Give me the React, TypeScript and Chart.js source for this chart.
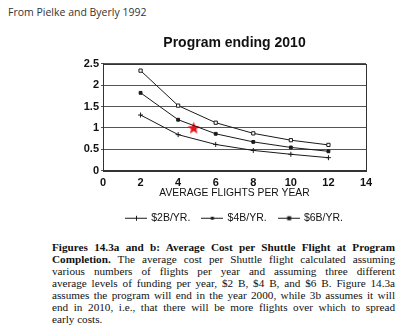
import React, { useEffect, useRef } from "react";
import { Chart, registerables } from "chart.js";
Chart.register(...registerables);

const flights = [2, 4, 6, 8, 10, 12];
const cost2B = [1.3, 0.84, 0.61, 0.47, 0.38, 0.3];
const cost4B = [1.82, 1.19, 0.86, 0.67, 0.54, 0.45];
const cost6B = [2.34, 1.52, 1.12, 0.87, 0.71, 0.6];
const seriesLabels = ["$2B/YR.", "$4B/YR.", "$6B/YR."];
const starX = [4.83];
const starY = [1.0];
const chartTitle = "Program ending 2010";
const xAxisTitle = "AVERAGE FLIGHTS PER YEAR";
const sourceNote = "From Pielke and Byerly 1992";

const captionLines: { bold?: string; text?: string }[] = [
  { bold: "Figures 14.3a and b: Average Cost per Shuttle Flight at Program" },
  { bold: "Completion.", text: " The average cost per Shuttle flight calculated assuming" },
  { text: "various numbers of flights per year and assuming three different" },
  { text: "average levels of funding per year, $2 B, $4 B, and $6 B. Figure 14.3a" },
  { text: "assumes the program will end in the year 2000, while 3b assumes it will" },
  { text: "end in 2010, i.e., that there will be more flights over which to spread" },
  { text: "early costs." },
];

const INK = "#1a1a1a";

function legendImage(kind: "plus" | "dot" | "square") {
  const c = document.createElement("canvas");
  c.width = 22;
  c.height = 8;
  const ctx = c.getContext("2d")!;
  ctx.strokeStyle = INK;
  ctx.fillStyle = INK;
  ctx.lineWidth = 1;
  ctx.beginPath();
  ctx.moveTo(0, 4.5);
  ctx.lineTo(22, 4.5);
  ctx.stroke();
  if (kind === "plus") {
    ctx.beginPath();
    ctx.moveTo(11.5, 2);
    ctx.lineTo(11.5, 7);
    ctx.stroke();
  } else if (kind === "dot") {
    ctx.fillRect(9.5, 3, 3, 3);
  } else {
    ctx.fillRect(9.5, 2.5, 4, 4);
  }
  return c;
}

function starImage() {
  const c = document.createElement("canvas");
  c.width = 13;
  c.height = 13;
  const ctx = c.getContext("2d")!;
  ctx.fillStyle = "#e8141c";
  ctx.beginPath();
  const cx = 6.5, cy = 7, R = 6.5, r = 2.7;
  for (let i = 0; i < 10; i++) {
    const a = -Math.PI / 2 + (i * Math.PI) / 5;
    const rad = i % 2 === 0 ? R : r;
    const px = cx + rad * Math.cos(a);
    const py = cy + rad * Math.sin(a);
    if (i === 0) ctx.moveTo(px, py);
    else ctx.lineTo(px, py);
  }
  ctx.closePath();
  ctx.fill();
  return c;
}

export default function App() {
  const ref = useRef<HTMLCanvasElement>(null);

  useEffect(() => {
    if (!ref.current) return;
    const legendImgs = [legendImage("plus"), legendImage("dot"), legendImage("square")];
    const star = starImage();
    const toPts = (ys: number[]) => flights.map((x, i) => ({ x, y: ys[i] }));

    const frame = {
      id: "frame",
      beforeDatasetsDraw(chart: any) {
        const { ctx, chartArea } = chart;
        ctx.save();
        ctx.strokeStyle = "#333";
        ctx.lineWidth = 1;
        ctx.strokeRect(
          Math.round(chartArea.left) + 0.5,
          Math.round(chartArea.top) + 0.5,
          Math.round(chartArea.right - chartArea.left),
          Math.round(chartArea.bottom - chartArea.top)
        );
        ctx.restore();
      },
    };

    const chart = new Chart(ref.current, {
      type: "line",
      data: {
        datasets: [
          {
            label: seriesLabels[0],
            data: toPts(cost2B),
            borderColor: INK,
            backgroundColor: INK,
            borderWidth: 1,
            pointStyle: "cross",
            pointRadius: 2.5,
            pointBorderWidth: 1,
            tension: 0,
          },
          {
            label: seriesLabels[1],
            data: toPts(cost4B),
            borderColor: INK,
            backgroundColor: INK,
            borderWidth: 1,
            pointStyle: "rect",
            pointRadius: 2,
            pointBorderWidth: 1,
            tension: 0,
          },
          {
            label: seriesLabels[2],
            data: toPts(cost6B),
            borderColor: INK,
            backgroundColor: "#fff",
            borderWidth: 1,
            pointStyle: "rect",
            pointRadius: 2.3,
            pointBorderWidth: 1,
            tension: 0,
          },
          {
            label: "star",
            data: starX.map((x, i) => ({ x, y: starY[i] })),
            showLine: false,
            pointStyle: star as any,
            pointRadius: 6,
          },
        ],
      },
      options: {
        animation: false,
        responsive: false,
        maintainAspectRatio: false,
        layout: { padding: { left: 0, right: 34, top: 35, bottom: 0 } },
        plugins: {
          title: {
            display: true,
            fullSize: false,
            text: chartTitle,
            color: "#111",
            font: { family: "Liberation Sans", size: 14, weight: "bold" },
            padding: { top: 0, bottom: 12 },
          },
          legend: {
            position: "bottom",
            fullSize: false,
            labels: {
              usePointStyle: true,
              pointStyleWidth: 20,
              color: "#111",
              font: { family: "Liberation Sans", size: 10.5 },
              padding: 12,
              filter: (item: any) => item.datasetIndex < 3,
              generateLabels: (ch: any) => {
                const items = Chart.defaults.plugins.legend.labels.generateLabels(ch);
                return items.map((it: any) => ({
                  ...it,
                  pointStyle: it.datasetIndex < 3 ? legendImgs[it.datasetIndex] : it.pointStyle,
                }));
              },
            },
          },
          tooltip: { enabled: false },
        },
        scales: {
          x: {
            type: "linear",
            min: 0,
            max: 14,
            ticks: {
              stepSize: 2,
              color: "#111",
              font: { family: "Liberation Sans", size: 11, weight: "bold" },
              padding: 6,
            },
            grid: { display: false, drawTicks: false },
            border: { display: true, color: "#333" },
            title: {
              display: true,
              text: xAxisTitle,
              color: "#111",
              font: { family: "Liberation Sans", size: 10.3 },
              padding: { top: 0, bottom: 1 },
            },
            afterFit: (s: any) => {
              s.height = 30;
            },
          },
          y: {
            min: 0,
            max: 2.5,
            ticks: {
              stepSize: 0.5,
              color: "#111",
              font: { family: "Liberation Sans", size: 11, weight: "bold" },
              padding: 2,
              callback: (v: any) => String(v),
            },
            grid: { color: "#555", lineWidth: 1, tickLength: 2 },
            border: { display: true, color: "#333" },
            afterFit: (s: any) => {
              s.width = 103;
            },
          },
        },
      },
      plugins: [frame],
    } as any);
    return () => chart.destroy();
  }, []);

  return (
    <div style={{ position: "absolute", left: 0, top: 0, width: 400, height: 333, background: "#fff", overflow: "hidden" }}>
      <div
        style={{
          position: "absolute",
          left: 8,
          top: 5,
          fontFamily: "Open Sans",
          fontSize: 10.5,
          color: "#333",
          whiteSpace: "nowrap",
        }}
      >
        {sourceNote}
      </div>
      <canvas ref={ref} width={400} height={233} style={{ position: "absolute", left: 0, top: 0, width: 400, height: 233 }} />
      <div
        style={{
          position: "absolute",
          left: 52,
          top: 241,
          width: 343,
          fontFamily: "Liberation Serif",
          fontSize: 11.2,
          lineHeight: "12px",
          color: "#111",
        }}
      >
        {captionLines.map((l, i) => (
          <div
            key={i}
            style={{
              whiteSpace: "nowrap",
              textAlign: "justify",
              textAlignLast: i === captionLines.length - 1 ? "left" : "justify",
            }}
          >
            {l.bold ? <b>{l.bold}</b> : null}
            {l.text ?? null}
          </div>
        ))}
      </div>
    </div>
  );
}
